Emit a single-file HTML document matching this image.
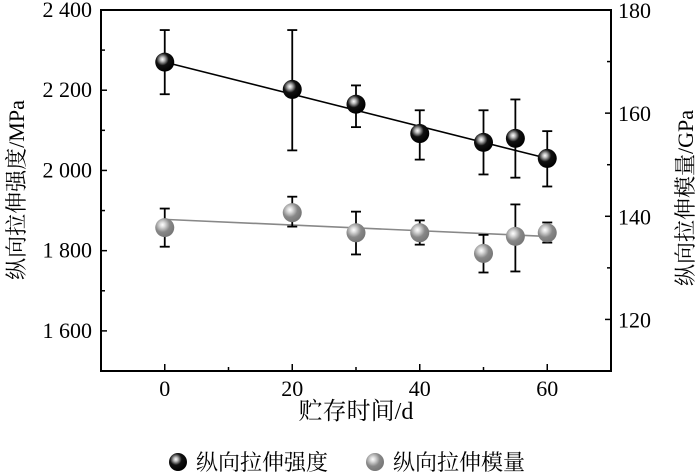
<!DOCTYPE html>
<html><head><meta charset="utf-8"><style>
body{margin:0;background:#fff}
svg{display:block;font-family:"Liberation Serif","Noto Serif CJK SC",serif}
</style></head><body>
<svg id="chart" width="700" height="474" viewBox="0 0 700 474">
<defs>
<radialGradient id="gb" cx="0.38" cy="0.35" r="0.65"><stop offset="0" stop-color="#fff"/><stop offset="0.18" stop-color="#bbb"/><stop offset="0.5" stop-color="#111"/><stop offset="1" stop-color="#000"/></radialGradient>
<radialGradient id="gg" cx="0.38" cy="0.35" r="0.65"><stop offset="0" stop-color="#fff"/><stop offset="0.2" stop-color="#ddd"/><stop offset="0.6" stop-color="#888"/><stop offset="1" stop-color="#777"/></radialGradient>
</defs>
<g id="layer"></g>
</svg>
<script>
const days=[0,20,30,40,50,55,60];
const strength=[2270,2202,2165,2092,2070,2080,2030];
const strengthHi=[2350,2350,2212,2150,2150,2177,2098];
const strengthLo=[2190,2050,2108,2027,1990,1982,1960];
const modulus=[137.8,140.7,136.8,136.8,132.8,136.1,136.8];
const modulusHi=[141.5,143.8,140.9,139.2,136.4,142.3,138.8];
const modulusLo=[134.1,138.0,132.6,134.5,129.1,129.3,134.9];
const strengthFit=[2270,2030];
const modulusFit=[139.4,136.1];
const xTicks=[0,20,40,60];
const xMinor=[10,30,50];
const yLTicks=[1600,1800,2000,2200,2400];
const yLLabels=["1 600","1 800","2 000","2 200","2 400"];
const yRTicks=[120,140,160,180];

const L=101,R=611,T=10,B=371;
const X=v=>L+(v+10)/80*(R-L);
const YL=v=>B-(v-1500)/900*(B-T);
const YR=v=>B-(v-110)/70*(B-T);
const NS="http://www.w3.org/2000/svg";
const g=document.getElementById('layer');
function mk(tag,attrs,parent){const e=document.createElementNS(NS,tag);for(const k in attrs)e.setAttribute(k,attrs[k]);(parent||g).appendChild(e);return e;}

let e=mk('rect',{x:L,y:T,width:R-L,height:B-T,fill:'none',stroke:'#000','stroke-width':2});



xTicks.forEach(v=>{
 let t=mk('line',{x1:X(v),x2:X(v),y1:B,y2:B-7,stroke:'#000','stroke-width':1.5});
 
 
 let l=mk('text',{x:X(v),y:B+25,'font-size':22,'text-anchor':'middle'});l.textContent=v;
 
 
});
xMinor.forEach(v=>{
 let t=mk('line',{x1:X(v),x2:X(v),y1:B,y2:B-4,stroke:'#000','stroke-width':1.5});
 
 
});
yLTicks.forEach((v,i)=>{
 let t=mk('line',{x1:L,x2:L+6,y1:YL(v),y2:YL(v),stroke:'#000','stroke-width':1.5});
 
 
 let l=mk('text',{x:L-9,y:YL(v)+7,'font-size':22,'text-anchor':'end'});l.textContent=yLLabels[i];
 
 
});
[1700,1900,2100,2300].forEach(v=>{
 let t=mk('line',{x1:L,x2:L+4,y1:YL(v),y2:YL(v),stroke:'#000','stroke-width':1.5});
 
 
});
yRTicks.forEach(v=>{
 let t=mk('line',{x1:R,x2:R-6,y1:YR(v),y2:YR(v),stroke:'#000','stroke-width':1.5});
 
 
 let l=mk('text',{x:R+7,y:YR(v)+8,'font-size':22,'text-anchor':'start'});l.textContent=v;
 
 
});
[130,150,170].forEach(v=>{
 let t=mk('line',{x1:R,x2:R-4,y1:YR(v),y2:YR(v),stroke:'#000','stroke-width':1.5});
 
 
});

e=mk('line',{x1:X(0),y1:YL(strengthFit[0]),x2:X(60),y2:YL(strengthFit[1]),stroke:'#000','stroke-width':1.6});


e=mk('line',{x1:X(0),y1:YR(modulusFit[0]),x2:X(60),y2:YR(modulusFit[1]),stroke:'#888','stroke-width':1.6});



function errbar(x,y1,y2,name){
 const gg=mk('g',{stroke:'#000','stroke-width':1.8});
 
 
 mk('line',{x1:x,x2:x,y1:y1,y2:y2},gg);
 mk('line',{x1:x-5,x2:x+5,y1:y1,y2:y1},gg);
 mk('line',{x1:x-5,x2:x+5,y1:y2,y2:y2},gg);
}
days.forEach((d,i)=>{
 errbar(X(d),YR(modulusHi[i]),YR(modulusLo[i]),'modulus-error-bar');
 let c=mk('circle',{cx:X(d),cy:YR(modulus[i]),r:9.5,fill:'url(#gg)'});
 
 
});
days.forEach((d,i)=>{
 errbar(X(d),YL(strengthHi[i]),YL(strengthLo[i]),'strength-error-bar');
 let c=mk('circle',{cx:X(d),cy:YL(strength[i]),r:9.5,fill:'url(#gb)'});
 
 
});

e=mk('text',{x:356,y:419,'font-size':24,'text-anchor':'middle'});e.textContent='贮存时间/d';


e=mk('text',{x:0,y:0,'font-size':22,'text-anchor':'middle',transform:'translate(24,190) rotate(-90)'});e.textContent='纵向拉伸强度/MPa';


e=mk('text',{x:0,y:0,'font-size':22,'text-anchor':'middle',transform:'translate(693,198) rotate(-90)'});e.textContent='纵向拉伸模量/GPa';



e=mk('circle',{cx:178,cy:462,r:9,fill:'url(#gb)'});


e=mk('text',{x:196,y:470,'font-size':22});e.textContent='纵向拉伸强度';


e=mk('circle',{cx:375,cy:462,r:9,fill:'url(#gg)'});


e=mk('text',{x:393,y:470,'font-size':22});e.textContent='纵向拉伸模量';


</script>
</body></html>
